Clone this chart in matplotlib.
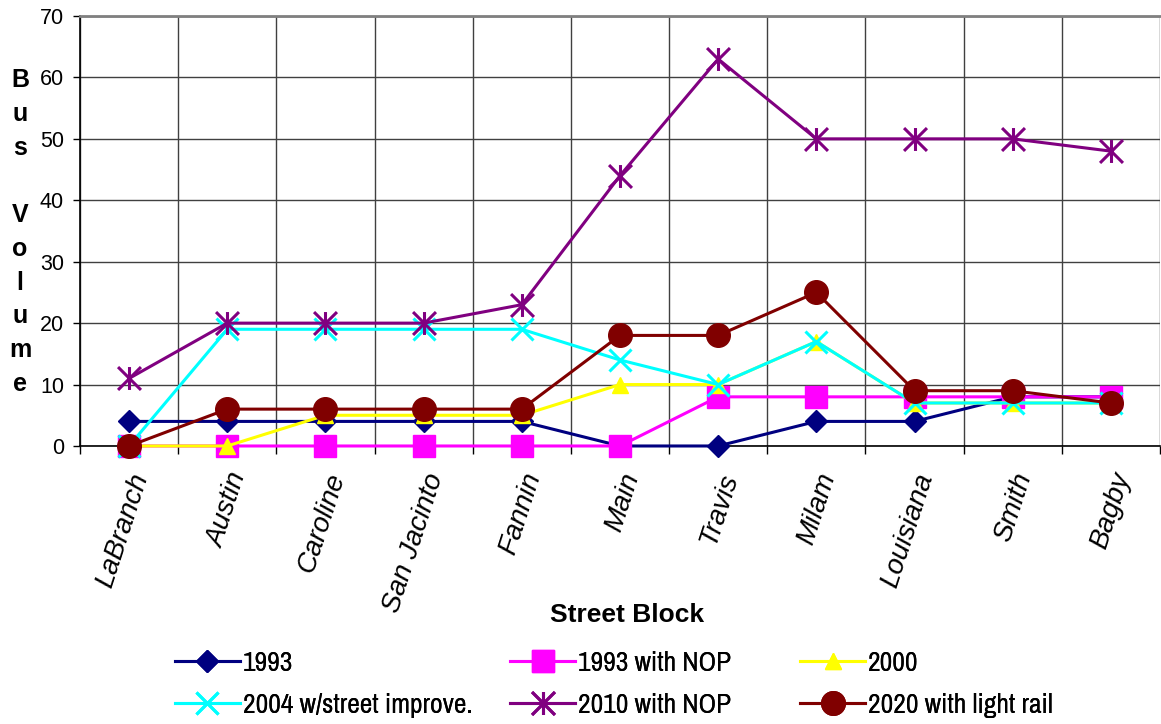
import matplotlib
matplotlib.use('Agg')
import matplotlib.pyplot as plt
import matplotlib.ticker as ticker
import matplotlib.transforms as transforms
from matplotlib.path import Path
from matplotlib import font_manager
from matplotlib.font_manager import FontProperties
from matplotlib.textpath import TextPath

# Street blocks along the x axis
street_blocks = ["LaBranch", "Austin", "Caroline", "San Jacinto", "Fannin", "Main",
                 "Travis", "Milam", "Louisiana", "Smith", "Bagby"]

# Bus volume per scenario
volume_1993 = [4, 4, 4, 4, 4, 0, 0, 4, 4, 8, 8]
volume_1993_nop = [0, 0, 0, 0, 0, 0, 8, 8, 8, 8, 8]
volume_2000 = [0, 0, 5, 5, 5, 10, 10, 17, 7, 7, 7]
volume_2004 = [0, 19, 19, 19, 19, 14, 10, 17, 7, 7, 7]
volume_2010_nop = [11, 20, 20, 20, 23, 44, 63, 50, 50, 50, 48]
volume_2020_rail = [0, 6, 6, 6, 6, 18, 18, 25, 9, 9, 7]

series_labels = ["1993", "1993 with NOP", "2000", "2004 w/street improve.",
                 "2010 with NOP", "2020 with light rail"]

y_ticks = [0, 10, 20, 30, 40, 50, 60, 70]

# Asterisk marker: two diagonals plus a vertical bar
asterisk_marker = Path([(-1, -1), (1, 1), (-1, 1), (1, -1), (0, -1), (0, 1)],
                       [Path.MOVETO, Path.LINETO, Path.MOVETO, Path.LINETO, Path.MOVETO, Path.LINETO])


# Pick a narrow sans font for the legend if one is installed
def legend_font_properties():
    chosen = None
    for f in font_manager.fontManager.ttflist:
        if 'Narrow' in f.name and f.style == 'normal' and f.weight in (400, 'normal', 'regular'):
            chosen = f.fname
            break
    if chosen is None:
        for f in font_manager.fontManager.ttflist:
            if f.stretch == 'condensed' and 'Sans' in f.name and f.style == 'normal' \
                    and f.weight in (400, 'normal', 'regular'):
                chosen = f.fname
                break
    if chosen is None:
        prop = FontProperties(family='Liberation Sans', size=20)
    else:
        prop = FontProperties(fname=chosen, size=20)
    # scale so "1993 with NOP" is about 151 px wide, as in the picture
    width_pt = TextPath((0, 0), "1993 with NOP", prop=prop).get_extents().width
    size = min(20.0, 20.0 * (151 * 0.72) / width_pt)
    prop.set_size(size)
    return prop


def plot_bus_volume():
    plt.rcParams['font.family'] = ['Liberation Sans', 'DejaVu Sans']

    fig = plt.figure(figsize=(11.61, 7.24), dpi=100)
    ax = fig.add_axes([0.0689, 0.384, 0.9302, 0.5939])

    x = list(range(len(street_blocks)))
    all_values = [volume_1993, volume_1993_nop, volume_2000, volume_2004, volume_2010_nop, volume_2020_rail]
    colors = ["#000080", "#FF00FF", "#FFFF00", "#00FFFF", "#800080", "#800000"]
    markers = ["D", "s", "^", "x", asterisk_marker, "o"]
    marker_sizes = [11.5, 16.5, 12, 16, 16.5, 17]

    handles = []
    i = 0
    while i < len(all_values):
        edge_width = 2.2 if i in (3, 4) else 1
        line, = ax.plot(x, all_values[i], color=colors[i], lw=2.2, marker=markers[i],
                        markersize=marker_sizes[i], markerfacecolor=colors[i],
                        markeredgecolor=colors[i], markeredgewidth=edge_width,
                        label=series_labels[i], zorder=3 + i, clip_on=False)
        handles.append(line)
        i += 1

    # Axes range and ticks
    ax.set_xlim(-0.5, len(street_blocks) - 0.5)
    ax.set_ylim(0, 70)
    ax.yaxis.set_major_locator(ticker.FixedLocator(y_ticks))
    ax.set_yticklabels([str(v) for v in y_ticks], fontsize=15.5)
    ax.tick_params(axis='y', direction='out', length=5, width=1, pad=6.5)

    ax.set_xticks(x)
    ax.set_xticks([v - 0.5 for v in range(len(street_blocks) + 1)], minor=True)
    ax.set_xticklabels(street_blocks, fontsize=20, style='italic', rotation=72,
                       ha='right', va='center', rotation_mode='anchor')
    ax.tick_params(axis='x', which='major', length=0, pad=20)
    ax.tick_params(axis='x', which='minor', direction='out', length=6, width=1)
    offset = transforms.ScaledTranslation(0.12, 0, fig.dpi_scale_trans)
    for label in ax.get_xticklabels():
        label.set_transform(label.get_transform() + offset)

    # Grid lines
    ax.grid(axis='y', which='major', color='#404040', lw=1)
    ax.grid(axis='x', which='minor', color='#404040', lw=1)
    ax.set_axisbelow(True)
    ax.spines['right'].set_visible(False)
    ax.spines['top'].set_color('#808080')
    ax.spines['top'].set_linewidth(2)
    ax.spines['left'].set_linewidth(1.2)
    ax.spines['bottom'].set_linewidth(1.2)

    # Axis titles
    fig.text(20 / 1161, 1 - 232 / 724, "B\nu\ns\n \nV\no\nl\nu\nm\ne", fontsize=18,
             fontweight='bold', ha='center', va='center', linespacing=1.51)
    fig.text(627 / 1161, 1 - 615 / 724, "Street Block", fontsize=19,
             fontweight='bold', ha='center', va='center')

    # Legend: three columns placed separately
    legend_font = legend_font_properties()
    size_px = legend_font.get_size_in_points() / 0.72
    column_x = [175, 510, 800]
    j = 0
    while j < 3:
        column_handles = [handles[j], handles[j + 3]]
        leg = fig.legend(handles=column_handles, loc='upper left',
                         bbox_to_anchor=(column_x[j] / 1161, 1 - 651 / 724),
                         frameon=False, prop=legend_font, borderpad=0,
                         handlelength=65 / size_px, handletextpad=3 / size_px,
                         labelspacing=17 / size_px, borderaxespad=0)
        fig.add_artist(leg)
        j += 1

    fig.savefig("out.png", dpi=100)


if __name__ == '__main__':
    plot_bus_volume()
